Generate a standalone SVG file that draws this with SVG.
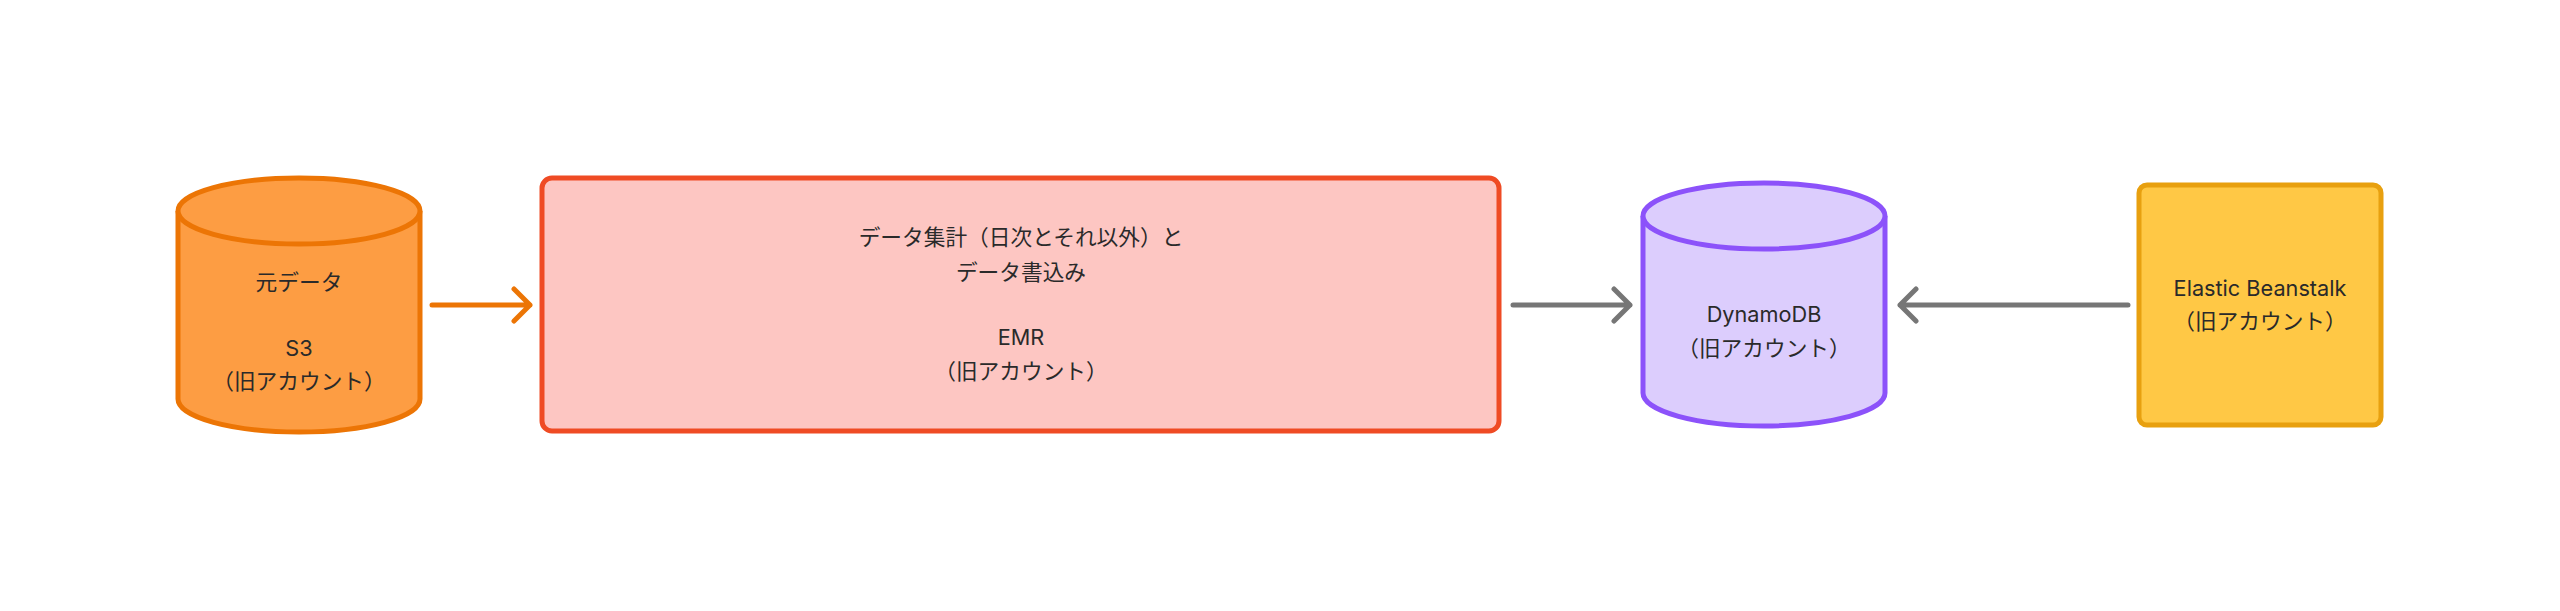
<svg xmlns="http://www.w3.org/2000/svg" width="2560" height="611" viewBox="0 0 2560 611">
<style>
text{font-family:Inter,"Noto Sans CJK JP",sans-serif;font-size:21.7px;fill:#2a2a2a;text-anchor:middle}
.c{stroke-width:5;stroke-linecap:round;stroke-linejoin:round;fill:none}
</style>
<rect width="2560" height="611" fill="#fff"/>
<g id="s3">
<path d="M178 211 V399 A121 33 0 0 0 420 399 V211" fill="#fd9d43" stroke="#ec7505" stroke-width="5"/>
<ellipse cx="299" cy="211" rx="121" ry="33" fill="#fd9d43" stroke="#ec7505" stroke-width="5"/>
<text x="299" y="290">元データ</text>
<text x="299" y="356">S3</text>
<text x="299" y="389">（旧アカウント）</text>
</g>
<g id="emr">
<rect x="542" y="178" width="957" height="253" rx="10" fill="#fdc6c2" stroke="#ef4b24" stroke-width="5"/>
<text x="1021" y="245">データ集計（日次とそれ以外）と</text>
<text x="1021" y="280">データ書込み</text>
<text x="1021" y="345">EMR</text>
<text x="1021" y="379">（旧アカウント）</text>
</g>
<g id="dynamodb">
<path d="M1643 216 V393 A121 33 0 0 0 1885 393 V216" fill="#dccdfd" stroke="#8c52fa" stroke-width="5"/>
<ellipse cx="1764" cy="216" rx="121" ry="33" fill="#dccdfd" stroke="#8c52fa" stroke-width="5"/>
<text x="1764" y="322">DynamoDB</text>
<text x="1764" y="356">（旧アカウント）</text>
</g>
<g id="beanstalk">
<rect x="2139" y="185" width="242" height="240" rx="8" fill="#ffc845" stroke="#e8a00f" stroke-width="5"/>
<text x="2260" y="296">Elastic Beanstalk</text>
<text x="2260" y="329">（旧アカウント）</text>
</g>
<g id="connectors">
<path class="c" stroke="#ec7505" d="M432 305 H530 M514 289 L530 305 L514 321"/>
<path class="c" stroke="#767676" d="M1513 305 H1630 M1614 289 L1630 305 L1614 321"/>
<path class="c" stroke="#767676" d="M2128 305 H1900 M1916 289 L1900 305 L1916 321"/>
</g>
</svg>
